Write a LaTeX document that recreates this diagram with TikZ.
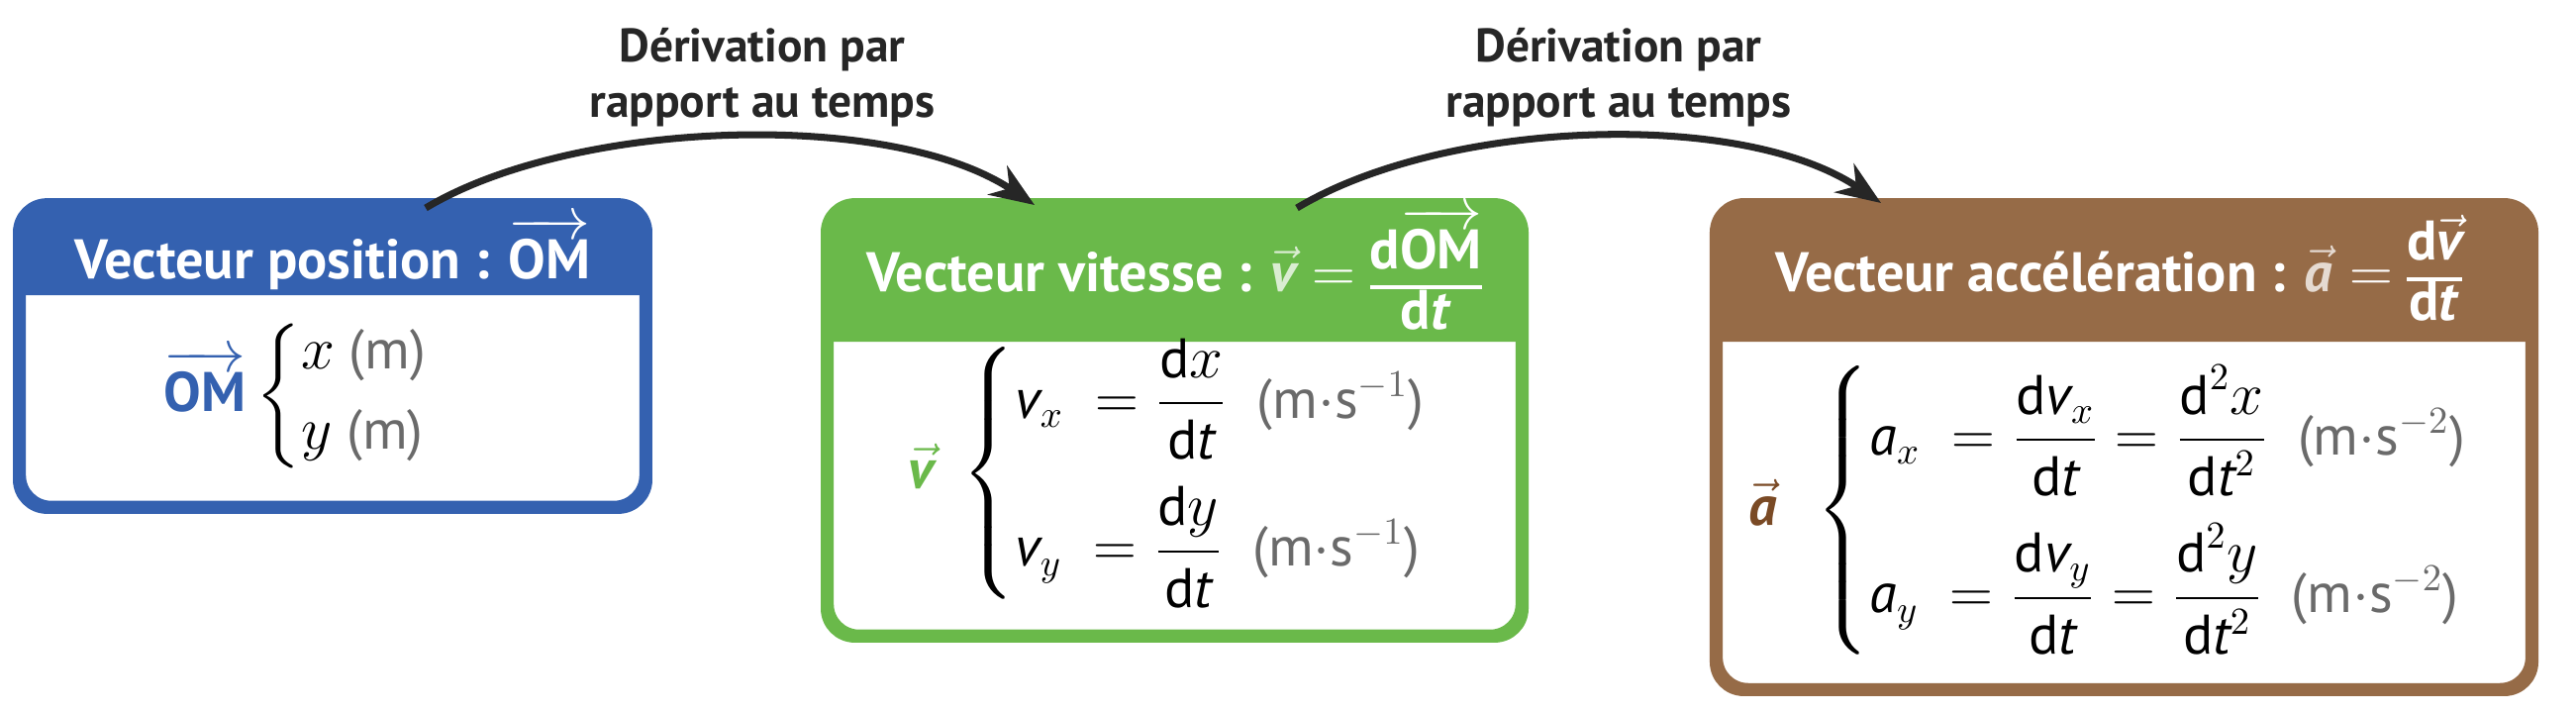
\documentclass[tikz,border=0pt]{standalone}
\usepackage{amsmath}
\usepackage{fontspec}
\setmainfont{PT Sans}
\usetikzlibrary{arrows.meta}
\definecolor{cblue}{HTML}{3461B0}
\definecolor{cgreen}{HTML}{6AB94A}
\definecolor{cbrown}{HTML}{966B47}
\definecolor{cgray}{HTML}{6A6A6A}
\definecolor{cbrownd}{HTML}{7A4A25}
\newcommand{\un}[1]{\textcolor{cgray}{\text{#1}}}
\newcommand{\hfr}[2]{{\renewcommand{\arraystretch}{0.85}\setlength{\arrayrulewidth}{1.2pt}\begin{tabular}{@{}c@{}}#1\\\hline #2\end{tabular}}}
\begin{document}
\begin{tikzpicture}[x=0.01cm,y=-0.01cm,
  boxs/.style={draw, line width=2.5pt, rounded corners=0.3cm, fill=white, inner sep=0pt},
  headtxt/.style={text=white, font=\fontsize{16}{19}\selectfont\bfseries},
  bodytxt/.style={font=\fontsize{16}{19}\selectfont},
  lbl/.style={font=\fontsize{13.5}{16}\selectfont\bfseries, align=center, text=black!85},
  arr/.style={-{Stealth[length=0.45cm,width=0.35cm]}, line width=2pt, black!85}]
\useasboundingbox (0,0) rectangle (2602,720);
% boxes
\node[boxs, draw=cblue, minimum width=6.28cm, minimum height=3.01cm] (b1) at (336,359.5) {};
\node[boxs, draw=cgreen, minimum width=6.97cm, minimum height=4.31cm] (b2) at (1186.5,424.5) {};
\node[boxs, draw=cbrown, minimum width=8.19cm, minimum height=4.85cm] (b3) at (2145.5,451.5) {};
% headers
\fill[cblue, rounded corners=0.3cm] (b1.west |- 0,298) -- (b1.north west) -- (b1.north east) [sharp corners] -- (b1.east |- 0,298) -- cycle;
\fill[cgreen, rounded corners=0.3cm] (b2.west |- 0,345) -- (b2.north west) -- (b2.north east) [sharp corners] -- (b2.east |- 0,345) -- cycle;
\fill[cbrown, rounded corners=0.3cm] (b3.west |- 0,345) -- (b3.north west) -- (b3.north east) [sharp corners] -- (b3.east |- 0,345) -- cycle;
\draw[cblue, line width=2.5pt, rounded corners=0.3cm] (b1.south west) rectangle (b1.north east);
\draw[cgreen, line width=2.5pt, rounded corners=0.3cm] (b2.south west) rectangle (b2.north east);
\draw[cbrown, line width=2.5pt, rounded corners=0.3cm] (b3.south west) rectangle (b3.north east);
% header texts
\node[headtxt] (h1) at (336,256) {Vecteur position : $\overrightarrow{\text{OM}}$};
\node[headtxt] (h2) at (1186,279) {Vecteur vitesse : $\textcolor{white!75!cgreen}{\vec{\textit{v}}} =$ \hfr{d$\overrightarrow{\text{OM}}$}{d\textit{t}}};
\node[headtxt] (h3) at (2140,279) {Vecteur accélération : $\textcolor{white!75!cbrown}{\vec{\textit{a}}} =$ \hfr{d$\vec{\textit{v}}$}{d\textit{t}}};
% bodies
\node[bodytxt] (c1) at (300,400) {$\textcolor{cblue}{\overrightarrow{\text{\bfseries OM}}}\left\{\begin{array}{@{}l@{}}x\ \un{(m)}\\[4pt] y\ \un{(m)}\end{array}\right.$};
\node[bodytxt] (c2) at (1180,478) {$\textcolor{cgreen}{\vec{\textbf{\textit{v}}}}\ \left\{\begin{array}{@{}l@{}}
\textit{v}_x\ = \dfrac{\text{d}x}{\text{d}\textit{t}}\ \ \un{(m$\cdot$s$^{-1}$)}\\[14pt]
\textit{v}_y\ = \dfrac{\text{d}y}{\text{d}\textit{t}}\ \ \un{(m$\cdot$s$^{-1}$)}\end{array}\right.$};
\node[bodytxt] (c3) at (2130,515) {$\textcolor{cbrownd}{\vec{\textbf{\textit{a}}}}\ \ \left\{\begin{array}{@{}l@{}}
\textit{a}_x\ = \dfrac{\text{d}\textit{v}_x}{\text{d}\textit{t}} = \dfrac{\text{d}^2x}{\text{d}\textit{t}^2}\ \ \un{(m$\cdot$s$^{-2}$)}\\[14pt]
\textit{a}_y\ = \dfrac{\text{d}\textit{v}_y}{\text{d}\textit{t}} = \dfrac{\text{d}^2y}{\text{d}\textit{t}^2}\ \ \un{(m$\cdot$s$^{-2}$)}\end{array}\right.$};
% arrows
\coordinate (s1) at (430,210);
\coordinate (e1) at (1045,207);
\coordinate (s2) at (1310,210);
\coordinate (e2) at (1900,205);
\draw[arr] (s1) .. controls (580,120) and (900,110) .. (e1);
\draw[arr] (s2) .. controls (1460,120) and (1760,110) .. (e2);
\node[lbl] (l1) at (770,78) {Dérivation par\\rapport au temps};
\node[lbl] (l2) at (1635,78) {Dérivation par\\rapport au temps};
\end{tikzpicture}
\end{document}
